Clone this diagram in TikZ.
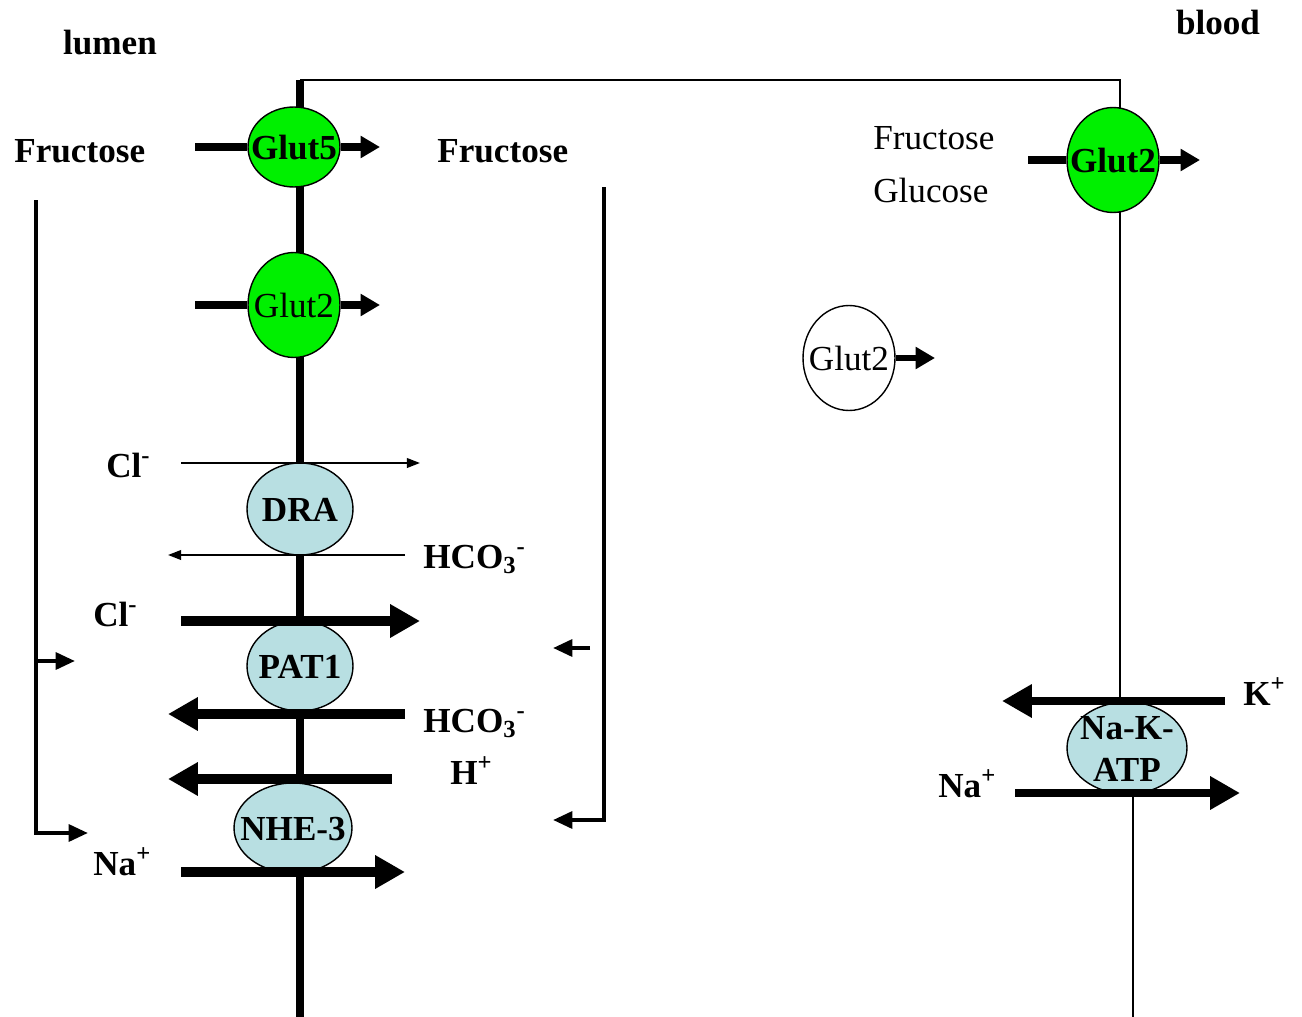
\documentclass[tikz,border=0pt]{standalone}
\usepackage{fontspec}
\setmainfont{Liberation Serif}
\usetikzlibrary{arrows.meta,shapes.geometric}
\definecolor{glutgreen}{RGB}{0,240,0}
\definecolor{pumpblue}{RGB}{184,223,226}
% text that does not widen the ellipse round it
\newcommand\inside[1]{\makebox[0pt]{\raisebox{-4.5pt}{\vbox to 0pt{\vss\hbox{\begin{tabular}{@{}c@{}}#1\end{tabular}}\vss}}}}
\tikzset{
  lbl/.style={font=\fontsize{20}{24}\selectfont\bfseries, inner sep=0pt},
  plain/.style={font=\fontsize{20}{24}\selectfont, inner sep=0pt},
  carrier/.style={ellipse, draw, line width=0.8pt, inner sep=0pt},
  glut/.style={carrier, fill=glutgreen, minimum width=1.84cm, minimum height=2.1cm},
  pump/.style={carrier, fill=pumpblue, font=\fontsize{20}{24}\selectfont\bfseries, minimum height=1.84cm},
  gflux/.style={line width=4pt},
  gtip/.style={gflux, -{Triangle[length=11pt, width=12pt]}},
  bigflux/.style={line width=6pt, -{Triangle[length=17pt, width=18pt]}},
  thinflux/.style={line width=1.1pt, -{Triangle[length=7.5pt, width=5.5pt]}},
  bracket/.style={line width=2.3pt},
  btip/.style={bracket, -{Triangle[length=11pt, width=9.5pt]}}
}
\begin{document}
\begin{tikzpicture}[x=0.02cm, y=-0.02cm]
  \useasboundingbox (0,0) rectangle (1302,1017);

  % membranes
  \draw[line width=5pt] (300,80) -- (300,1017);
  \draw[line width=0.8pt] (300,80) -- (1120,80) -- (1120,120);
  \draw[line width=0.8pt] (1120,200) -- (1120,705);
  \draw[line width=0.8pt] (1133,790) -- (1133,1017);

  % side labels
  \node[lbl, anchor=base] (lumen) at (110,55) {lumen};
  \node[lbl, anchor=base] (blood) at (1218,35) {blood};
  \node[lbl, anchor=base west] (fruL) at (14,163) {Fructose};
  \node[lbl, anchor=base west] (fruC) at (437,163) {Fructose};
  \node[plain, anchor=base west] (fruB) at (873,150) {Fructose};
  \node[plain, anchor=base west] (gluB) at (873,202) {Glucose};

  % carriers
  \node[glut, font=\fontsize{20}{24}\selectfont\bfseries, minimum height=1.6cm] (glut5) at (294,147) {\inside{Glut5}};
  \node[glut, font=\fontsize{20}{24}\selectfont] (glut2a) at (294,305) {\inside{Glut2}};
  \node[glut, font=\fontsize{20}{24}\selectfont\bfseries] (glut2b) at (1113,160) {\inside{Glut2}};
  \node[carrier, fill=white, minimum width=1.84cm, minimum height=2.1cm,
        font=\fontsize{20}{24}\selectfont] (glut2c) at (849,358) {\inside{Glut2}};
  \node[pump, minimum width=2.12cm] (dra) at (300,509) {\inside{DRA}};
  \node[pump, minimum width=2.12cm, minimum height=1.8cm] (pat) at (300,666) {\inside{PAT1}};
  \node[pump, minimum width=2.36cm, minimum height=1.8cm] (nhe) at (293,828) {\inside{NHE-3}};
  \node[pump, minimum width=2.4cm] (nka) at (1127,748) {\inside{Na-K-\\ATP}};

  % ions
  \node[lbl, anchor=base west] (cl1) at (106,477) {Cl\textsuperscript{-}};
  \node[lbl, anchor=base west] (hco1) at (423,568) {HCO\textsubscript{3}\textsuperscript{-}};
  \node[lbl, anchor=base west] (cl2) at (93,626) {Cl\textsuperscript{-}};
  \node[lbl, anchor=base west] (hco2) at (423,732) {HCO\textsubscript{3}\textsuperscript{-}};
  \node[lbl, anchor=base west] (hion) at (450,784) {H\textsuperscript{+}};
  \node[lbl, anchor=base west] (na1) at (93,875) {Na\textsuperscript{+}};
  \node[lbl, anchor=base west] (kion) at (1243,705) {K\textsuperscript{+}};
  \node[lbl, anchor=base west] (na2) at (938,797) {Na\textsuperscript{+}};

  % free ends of the fluxes
  \coordinate (g5in) at (195,147);   \coordinate (g5out) at (380,147);
  \coordinate (g2in) at (195,305);   \coordinate (g2out) at (380,305);
  \coordinate (gbin) at (1028,160);  \coordinate (gbout) at (1200,160);
  \coordinate (gcout) at (935,358);
  \coordinate (cl1a) at (181,463);   \coordinate (cl1b) at (420,463);
  \coordinate (hc1a) at (405,555);   \coordinate (hc1b) at (168,555);
  \coordinate (cl2a) at (181,621);   \coordinate (cl2b) at (420,621);
  \coordinate (hc2a) at (405,714);   \coordinate (hc2b) at (168,714);
  \coordinate (ha) at (392,779);     \coordinate (hb) at (168,779);
  \coordinate (naa) at (181,872);    \coordinate (nab) at (405,872);
  \coordinate (ka) at (1225,701);    \coordinate (kb) at (1002,701);
  \coordinate (nba) at (1015,793);   \coordinate (nbb) at (1240,793);

  % glucose / fructose transport
  \draw[gflux] (g5in) -- (glut5);
  \draw[gtip] (glut5) -- (g5out);
  \draw[gflux] (g2in) -- (glut2a);
  \draw[gtip] (glut2a) -- (g2out);
  \draw[gflux] (gbin) -- (glut2b);
  \draw[gtip] (glut2b) -- (gbout);
  \draw[gtip, line width=3.5pt] (glut2c) -- (gcout);

  % exchangers
  \draw[thinflux] (cl1a) -- (cl1b);
  \draw[thinflux] (hc1a) -- (hc1b);
  \draw[bigflux] (cl2a) -- (cl2b);
  \draw[bigflux] (hc2a) -- (hc2b);
  \draw[bigflux] (ha) -- (hb);
  \draw[bigflux] (naa) -- (nab);
  \draw[bigflux, line width=5pt] (ka) -- (kb);
  \draw[bigflux, line width=5pt] (nba) -- (nbb);

  % brackets
  \coordinate (lbtop) at (36,200);   \coordinate (lbbot) at (36,833);
  \coordinate (lbmid) at (36,661);
  \coordinate (lbend) at (88,833);   \coordinate (lbmidend) at (75,661);
  \draw[btip] (lbtop) -- (lbbot) -- (lbend);
  \draw[btip] (lbmid) -- (lbmidend);
  \coordinate (rbtop) at (604,187);  \coordinate (rbbot) at (604,820);
  \coordinate (rbend) at (553,820);
  \coordinate (rbmid) at (590,648);  \coordinate (rbmidend) at (553,648);
  \draw[btip] (rbtop) -- (rbbot) -- (rbend);
  \draw[btip] (rbmid) -- (rbmidend);
\end{tikzpicture}
\end{document}
